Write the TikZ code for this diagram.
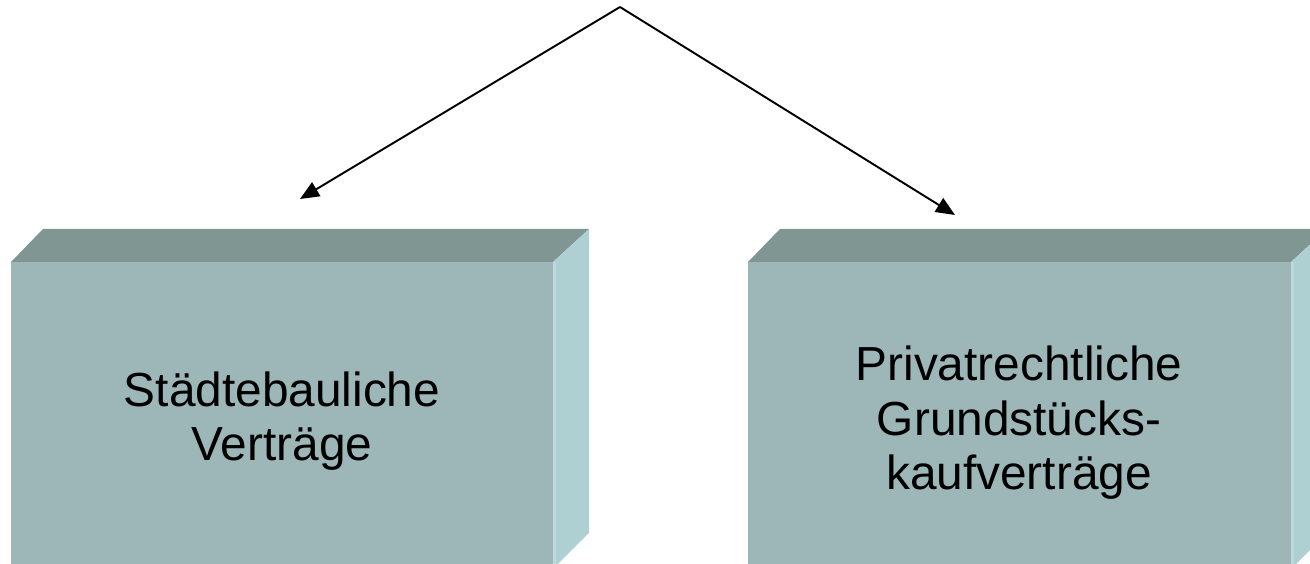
\documentclass[tikz,border=0pt]{standalone}
\usepackage{fontspec}
\setmainfont{Liberation Sans}
\usetikzlibrary{arrows.meta}
\definecolor{topc}{HTML}{7F9693}
\definecolor{frontc}{HTML}{9DB7B8}
\definecolor{sidec}{HTML}{AED0D3}
\definecolor{edgec}{HTML}{BCDADC}
\tikzset{
  topface/.style={fill=topc},
  frontface/.style={fill=frontc},
  sideface/.style={fill=sidec},
  edgeline/.style={draw=edgec, line width=0.9pt},
  label/.style={font=\fontsize{13.6pt}{15.5pt}\selectfont, align=center, text=black},
  conn/.style={draw=black, line width=0.55pt, -{Triangle[length=0.19cm,width=0.16cm]}}
}
\begin{document}
\begin{tikzpicture}[x=1cm,y=1cm]
\useasboundingbox (0,0) rectangle (13.1,-5.64);
\clip (0,0) rectangle (13.1,-5.64);
% left box
\fill[frontface] (0.11,-2.62) rectangle (5.53,-5.80);
\fill[topface] (0.11,-2.62) -- (0.43,-2.29) -- (5.89,-2.29) -- (5.53,-2.62) -- cycle;
\fill[sideface] (5.53,-2.62) -- (5.89,-2.29) -- (5.89,-5.33) -- (5.53,-5.69) -- cycle;
\draw[edgeline] (5.545,-2.62) -- (5.545,-5.80);
% right box
\fill[frontface] (7.48,-2.62) rectangle (12.91,-5.80);
\fill[topface] (7.48,-2.62) -- (7.80,-2.29) -- (13.27,-2.29) -- (12.91,-2.62) -- cycle;
\fill[sideface] (12.91,-2.62) -- (13.27,-2.29) -- (13.27,-5.33) -- (12.91,-5.69) -- cycle;
\draw[edgeline] (12.925,-2.62) -- (12.925,-5.80);
% labels
\node[label] (left) at (2.82,-4.21) {Städtebauliche\\Verträge};
\node[label] (right) at (10.19,-4.23) {Privatrechtliche\\Grundstücks-\\kaufverträge};
% connectors
\coordinate (apex) at (6.20,-0.07);
\coordinate (lend) at (3.00,-1.99);
\coordinate (rend) at (9.55,-2.15);
\draw[conn] (apex) -- (lend);
\draw[conn] (apex) -- (rend);
\end{tikzpicture}
\end{document}
